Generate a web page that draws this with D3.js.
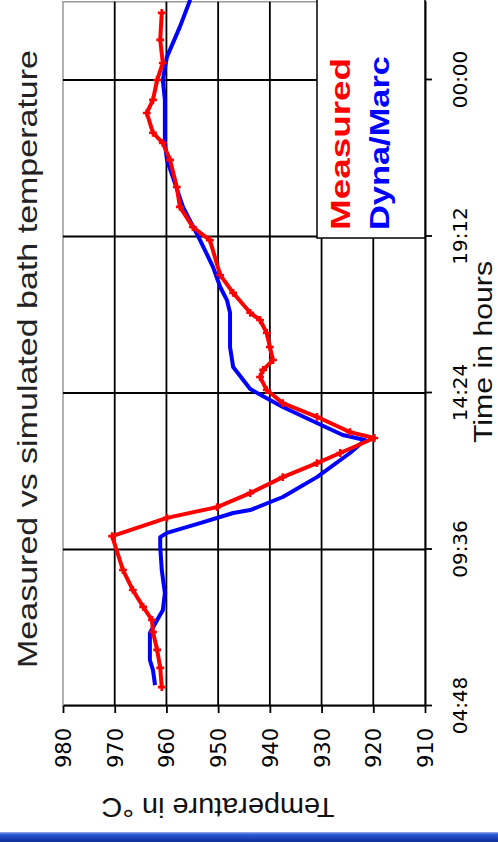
<!DOCTYPE html>
<html>
<head>
<meta charset="utf-8">
<script src="https://cdn.jsdelivr.net/npm/d3@7"></script>
<style>
html, body { margin: 0; padding: 0; background: #fff; }
svg { display: block; }
</style>
</head>
<body>
<svg width="498" height="842"></svg>
<script>
// values, time in hours (above 24 = after midnight)
const measuredTime = [5.38, 5.97, 6.52, 7.07, 7.44, 7.84, 8.36, 8.97, 10.01, 10.57, 10.90, 11.33, 11.82, 12.25, 12.56, 13.02, 13.20, 13.67, 14.09, 14.49, 14.89, 15.11, 15.41, 15.81, 16.24, 16.64, 16.86, 17.47, 18.02, 19.09, 19.49, 20.11, 20.72, 21.55, 22.07, 22.38, 22.99, 23.39, 24.00, 24.52, 25.23, 26.06]
const measuredTemp = [960.9, 961.2, 961.8, 962.6, 962.8, 964.5, 966.5, 968.4, 970.5, 959.9, 950.2, 943.8, 937.5, 930.9, 926.4, 919.8, 924.5, 930.9, 937.5, 940.6, 941.9, 941.3, 939.4, 940.0, 940.6, 941.9, 943.8, 947.1, 949.6, 951.6, 954.9, 957.4, 958.0, 959.3, 960.7, 962.6, 963.8, 962.6, 961.8, 960.7, 961.2, 960.9]

const simTime = [5.44, 5.90, 6.21, 7.04, 7.44, 7.74, 8.27, 8.97, 9.68, 9.98, 10.11, 10.41, 10.72, 10.81, 11.21, 11.82, 12.56, 12.96, 13.11, 13.48, 13.97, 14.52, 15.20, 15.81, 16.86, 17.25, 17.65, 18.27, 19.09, 20.11, 21.55, 22.07, 23.39, 24.00, 24.71, 25.63, 26.46]
const simTemp = [962.2, 962.6, 963.2, 963.2, 961.8, 960.7, 960.3, 960.9, 961.2, 961.2, 959.9, 953.5, 947.1, 943.8, 937.5, 930.9, 924.5, 921.6, 925.9, 930.9, 937.5, 943.8, 947.1, 947.7, 947.7, 948.3, 949.6, 951.0, 953.5, 956.8, 959.9, 960.3, 960.3, 960.7, 959.9, 957.4, 955.4]

const timeTicks = [4.8, 9.6, 14.4, 19.2, 24]
const timeLabels = ["04:48", "09:36", "14:24", "19:12", "00:00"]
const tempTicks = [980, 970, 960, 950, 940, 930, 920, 910]

const seriesNames = ["Measured", "Dyna/Marc"]
const seriesColors = ["#ff0000", "#0000ff"]

const svg = d3.select("svg")

// slide bar at the bottom
const defs = svg.append("defs")
const grad = defs.append("linearGradient")
	.attr("id", "bar")
	.attr("x1", 0).attr("y1", 0).attr("x2", 0).attr("y2", 1)
grad.append("stop").attr("offset", 0).attr("stop-color", "#9db3ea")
grad.append("stop").attr("offset", 0.25).attr("stop-color", "#2c5ad6")
grad.append("stop").attr("offset", 1).attr("stop-color", "#0d2c96")
svg.append("rect")
	.attr("x", 0).attr("y", 832)
	.attr("width", 498).attr("height", 10)
	.attr("fill", "url(#bar)")

// the chart lies on its side: draw it normally and turn it
const g = svg.append("g")
	.attr("transform", "translate(0,842) rotate(-90)")

const x = d3.scaleLinear()
	.domain([4.8, 26.4])
	.range([136, 840.25])

const y = d3.scaleLinear()
	.domain([910, 980])
	.range([425, 63])

defs.append("clipPath")
	.attr("id", "plot")
	.append("rect")
	.attr("x", 136).attr("y", 63)
	.attr("width", 720).attr("height", 362)

// plot frame
g.append("rect")
	.attr("x", 136).attr("y", 63)
	.attr("width", x(26.4) - 136).attr("height", 362)
	.attr("fill", "#fff")
	.attr("stroke", "#999")
	.attr("stroke-width", 1.5)

// grid
g.append("g")
	.selectAll("line")
	.data(tempTicks.filter(d => d != 980 && d != 910))
	.enter()
	.append("line")
	.attr("x1", 136).attr("x2", x(26.4))
	.attr("y1", d => y(d)).attr("y2", d => y(d))
	.attr("stroke", "#000")
	.attr("stroke-width", 1.8)

g.append("g")
	.selectAll("line")
	.data(timeTicks.slice(1))
	.enter()
	.append("line")
	.attr("x1", d => x(d)).attr("x2", d => x(d))
	.attr("y1", 63).attr("y2", 425)
	.attr("stroke", "#000")
	.attr("stroke-width", 1.8)

// series
const line = d3.line()
	.x(d => x(d[0]))
	.y(d => y(d[1]))

const measured = d3.zip(measuredTime, measuredTemp)
const sim = d3.zip(simTime, simTemp)

const lines = g.append("g").attr("clip-path", "url(#plot)")

lines.append("path")
	.attr("d", line(sim))
	.attr("fill", "none")
	.attr("stroke", seriesColors[1])
	.attr("stroke-width", 4)
	.attr("stroke-linejoin", "round")

lines.append("path")
	.attr("d", line(measured))
	.attr("fill", "none")
	.attr("stroke", seriesColors[0])
	.attr("stroke-width", 4)
	.attr("stroke-linejoin", "round")

lines.append("g")
	.selectAll("path")
	.data(measured)
	.enter()
	.append("path")
	.attr("d", d3.symbol(d3.symbolCross, 34))
	.attr("transform", d => `translate(${x(d[0])},${y(d[1])})`)
	.attr("fill", seriesColors[0])

// axes
const timeAxis = d3.axisBottom(x)
	.tickValues(timeTicks)
	.tickFormat((d, i) => timeLabels[i])
	.tickSize(7)
	.tickSizeOuter(0)

const tempAxis = d3.axisLeft(y)
	.tickValues(tempTicks)
	.tickFormat(d3.format("d"))
	.tickSize(7)
	.tickPadding(15)
	.tickSizeOuter(0)

const ta = g.append("g")
	.attr("transform", "translate(0,425)")
	.call(timeAxis)
ta.selectAll("text")
	.attr("y", 42)
	.attr("dy", 0)
	.attr("font-family", "DejaVu Sans")
	.attr("font-size", 20)
	.attr("fill", "#000")

const ya = g.append("g")
	.attr("transform", "translate(136,0)")
	.call(tempAxis)
ya.selectAll("text")
	.attr("font-family", "DejaVu Sans")
	.attr("font-size", 21)
	.attr("dy", "0.36em")
	.attr("fill", "#000")

g.selectAll(".domain").attr("stroke", "#000").attr("stroke-width", 2)
g.selectAll(".tick line").attr("stroke", "#000").attr("stroke-width", 1.8)

// legend
const leg = g.append("g")
leg.append("rect")
	.attr("x", 604).attr("y", 317)
	.attr("width", 260).attr("height", 108)
	.attr("fill", "#fff")
	.attr("stroke", "#000")
	.attr("stroke-width", 1.5)
leg.selectAll("text")
	.data(seriesNames)
	.enter()
	.append("text")
	.attr("x", 612)
	.attr("y", (d, i) => 350 + i * 39)
	.attr("font-family", "Liberation Sans, Arial, sans-serif")
	.attr("font-weight", "bold")
	.attr("font-size", 28)
	.attr("textLength", (d, i) => i == 0 ? 172 : 174)
	.attr("lengthAdjust", "spacingAndGlyphs")
	.attr("fill", (d, i) => seriesColors[i])
	.text(d => d)

// titles
g.append("text")
	.attr("x", 483).attr("y", 37)
	.attr("text-anchor", "middle")
	.attr("font-family", "Liberation Sans, Arial, sans-serif")
	.attr("font-size", 28)
	.attr("textLength", 618)
	.attr("lengthAdjust", "spacingAndGlyphs")
	.attr("fill", "#222")
	.text("Measured vs simulated bath temperature")

g.append("text")
	.attr("x", 490).attr("y", 492)
	.attr("text-anchor", "middle")
	.attr("font-family", "Liberation Sans, Arial, sans-serif")
	.attr("font-size", 25)
	.attr("textLength", 182)
	.attr("lengthAdjust", "spacingAndGlyphs")
	.attr("fill", "#111")
	.text("Time in hours")

g.append("text")
	.attr("transform", "translate(44,218) rotate(-90)")
	.attr("text-anchor", "middle")
	.attr("font-family", "Liberation Sans, Arial, sans-serif")
	.attr("font-size", 28)
	.attr("textLength", 233)
	.attr("lengthAdjust", "spacingAndGlyphs")
	.attr("fill", "#111")
	.text("Temperature in °C")
</script>
</body>
</html>
